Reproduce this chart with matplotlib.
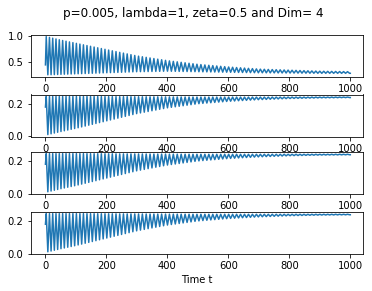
import numpy as np
from matplotlib import pyplot as plt

# envelope readings (upper = crests, lower = troughs) at these times
t_read = [0, 50, 100, 200, 300, 400, 500, 600, 700, 800, 900, 1000]

top1 = [0.99, 0.92, 0.86, 0.74, 0.62, 0.53, 0.46, 0.41, 0.37, 0.35, 0.33, 0.32]
bot1 = [0.26, 0.27, 0.28, 0.30, 0.32, 0.33, 0.32, 0.31, 0.30, 0.295, 0.29, 0.29]

top2 = [0.245, 0.245, 0.245, 0.244, 0.243, 0.242, 0.241, 0.241, 0.241, 0.241, 0.241, 0.241]
bot2 = [0.008, 0.03, 0.05, 0.095, 0.14, 0.175, 0.20, 0.215, 0.225, 0.232, 0.236, 0.238]

top3 = [0.245, 0.245, 0.245, 0.244, 0.243, 0.242, 0.241, 0.241, 0.241, 0.241, 0.241, 0.241]
bot3 = [0.008, 0.03, 0.05, 0.095, 0.14, 0.175, 0.20, 0.215, 0.225, 0.232, 0.236, 0.238]

top4 = [0.245, 0.245, 0.245, 0.244, 0.243, 0.242, 0.241, 0.241, 0.241, 0.241, 0.241, 0.241]
bot4 = [0.008, 0.03, 0.05, 0.095, 0.14, 0.175, 0.20, 0.215, 0.225, 0.232, 0.236, 0.238]

# oscillation period read at the same times
period = [10.5, 11, 11.5, 12, 12.5, 12.8, 13, 13, 13, 13, 13, 13]

start = [0.45, 0.18, 0.18, 0.18]
yticks = [[0.5, 1.0], [0.0, 0.2], [0.0, 0.2], [0.0, 0.2]]


def zigzag(top, bot, y0):
    # crests and troughs placed every half period
    tk = [np.interp(0, t_read, period) / 4]
    while tk[-1] < 1000:
        tk.append(tk[-1] + np.interp(tk[-1], t_read, period) / 2)
    tk = np.array(tk[:-1])
    up = np.interp(tk, t_read, top)
    lo = np.interp(tk, t_read, bot)
    yk = np.where(np.arange(len(tk)) % 2 == 0, up, lo)
    return np.concatenate([[0], tk, [1000]]), np.concatenate([[y0], yk, [yk[-1]]])


fig = plt.figure(figsize=(372 / 72, 291 / 72), dpi=72)
fig.suptitle('p=0.005, lambda=1, zeta=0.5 and Dim= 4', fontsize=12, x=0.52, y=0.975)

series = [(top1, bot1), (top2, bot2), (top3, bot3), (top4, bot4)]
tops = [34.7, 94.5, 151.7, 211.7]
for i, (tp, bt) in enumerate(series):
    ax = fig.add_axes([30.5 / 372, 1 - (tops[i] + 42) / 291, 332 / 372, 42 / 291])
    x, y = zigzag(tp, bt, start[i])
    ax.plot(x, y, color='#1f77b4', lw=1.5)
    ax.set_xlim(-49, 1040)
    ax.set_xticks([0, 200, 400, 600, 800, 1000])
    ax.set_yticks(yticks[i])
    ax.tick_params(labelsize=10)
    if i == 3:
        ax.set_xlabel('Time t', fontsize=10)

fig.savefig('out.png', dpi=72)
